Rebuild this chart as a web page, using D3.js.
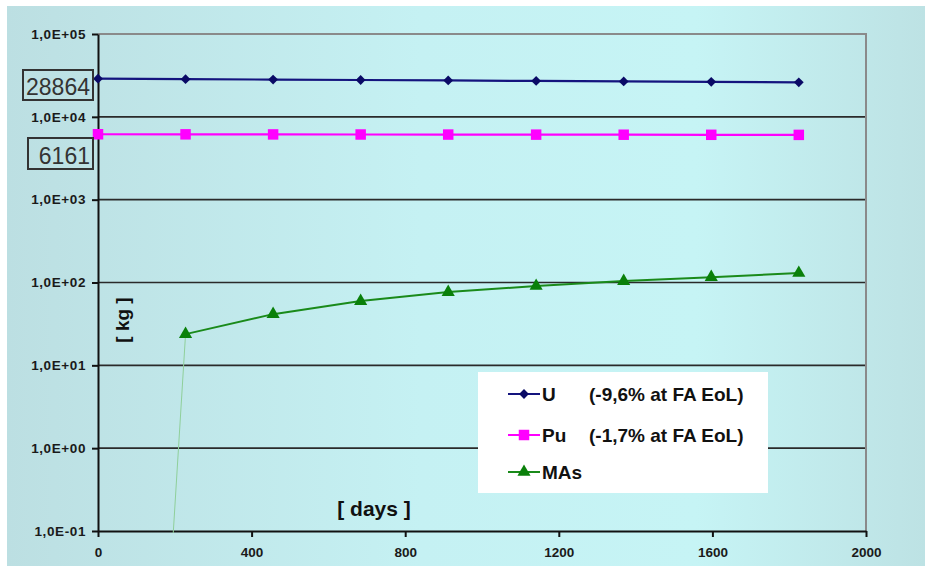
<!DOCTYPE html>
<html>
<head>
<meta charset="utf-8">
<script src="https://cdn.jsdelivr.net/npm/d3@7"></script>
<style>
  body { margin: 0; background: #fff; }
  svg { display: block; font-family: "Liberation Sans", Arial, sans-serif; }
</style>
</head>
<body>
<svg id="chart" width="925" height="566"></svg>
<script>
// days of the irradiation steps
const days = [0, 228, 456, 684, 912, 1141, 1369, 1597, 1825];
const uMass = [28864, 28518, 28172, 27825, 27479, 27132, 26786, 26440, 26093];
const puMass = [6161, 6148, 6135, 6122, 6109, 6095, 6082, 6069, 6056];
// MAs start near zero at day 0 (Excel draws it as a line dropping off the log axis)
const maMass = [2e-16, 23.8, 41.5, 59.6, 76.6, 90.6, 104, 116, 130];

const yTicks = [1e-1, 1e0, 1e1, 1e2, 1e3, 1e4, 1e5];
const xTicks = [0, 400, 800, 1200, 1600, 2000];

const seriesNames = ["U", "Pu", "MAs"];
const seriesNotes = ["(-9,6% at FA EoL)", "(-1,7% at FA EoL)", ""];

const width = 925,
  height = 566;
const plotLeft = 98,
  plotRight = 866,
  plotTop = 34,
  plotBottom = 531;

const svg = d3.select("#chart");

/* Background */
const defs = svg.append("defs");
const grad = defs
  .append("linearGradient")
  .attr("id", "bg")
  .attr("x1", "0")
  .attr("x2", "1")
  .attr("y1", "0")
  .attr("y2", "0");
grad.append("stop").attr("offset", "0%").attr("stop-color", "#bcdfe2");
grad.append("stop").attr("offset", "45%").attr("stop-color", "#c5f1f3");
grad.append("stop").attr("offset", "75%").attr("stop-color", "#c6f4f5");
grad.append("stop").attr("offset", "100%").attr("stop-color", "#bde2e4");

defs
  .append("clipPath")
  .attr("id", "plot")
  .append("rect")
  .attr("x", plotLeft)
  .attr("y", plotTop)
  .attr("width", plotRight - plotLeft)
  .attr("height", plotBottom - plotTop + 2);

svg
  .append("rect")
  .attr("x", 7)
  .attr("y", 6)
  .attr("width", width - 7)
  .attr("height", height - 6)
  .attr("fill", "url(#bg)");

/* Scales */
const xScale = d3.scaleLinear().domain([0, 2000]).range([plotLeft, plotRight]);
const yScale = d3.scaleLog().domain([1e-1, 1e5]).range([plotBottom, plotTop]);

const expFormat = (d) => {
  const e = Math.round(Math.log10(d));
  return "1,0E" + (e < 0 ? "-" : "+") + String(Math.abs(e)).padStart(2, "0");
};

/* Grid lines */
svg
  .append("g")
  .selectAll("line")
  .data(yTicks.filter((d) => d > 1e-1 && d < 1e5))
  .enter()
  .append("line")
  .attr("x1", plotLeft)
  .attr("x2", plotRight)
  .attr("y1", (d) => yScale(d))
  .attr("y2", (d) => yScale(d))
  .attr("stroke", "#2a2a2a")
  .attr("stroke-width", 1.6);

/* Plot frame (top and right) */
svg
  .append("path")
  .attr("d", `M${plotLeft},${plotTop}H${plotRight}V${plotBottom}`)
  .attr("fill", "none")
  .attr("stroke", "#8a8a8a")
  .attr("stroke-width", 2);

/* Axes */
const yAxis = d3.axisLeft(yScale).tickValues(yTicks).tickFormat(expFormat).tickSize(6).tickSizeOuter(0);
const gy = svg.append("g").attr("transform", `translate(${plotLeft},0)`).call(yAxis);
gy.select(".domain").attr("stroke", "#111").attr("stroke-width", 2);
gy.selectAll(".tick line").attr("stroke", "#111").attr("stroke-width", 2);
gy.selectAll(".tick text")
  .attr("x", -12)
  .attr("font-size", 13.5)
  .attr("font-weight", "bold")
  .attr("letter-spacing", 0.6)
  .attr("fill", "#1a1a1a");

const xAxis = d3.axisBottom(xScale).tickValues(xTicks).tickFormat(d3.format("d")).tickSize(6).tickSizeOuter(0);
const gx = svg.append("g").attr("transform", `translate(0,${plotBottom})`).call(xAxis);
gx.select(".domain").attr("stroke", "#111").attr("stroke-width", 2);
gx.selectAll(".tick line").attr("stroke", "#111").attr("stroke-width", 2);
gx.selectAll(".tick text")
  .attr("y", 16)
  .attr("font-size", 13.5)
  .attr("font-weight", "bold")
  .attr("fill", "#1a1a1a");

/* Axis titles */
svg
  .append("text")
  .attr("transform", "translate(129,320) rotate(-90)")
  .attr("text-anchor", "middle")
  .attr("font-size", 19)
  .attr("font-weight", "bold")
  .attr("fill", "#111")
  .text("[ kg ]");

svg
  .append("text")
  .attr("x", 374)
  .attr("y", 516)
  .attr("text-anchor", "middle")
  .attr("font-size", 21)
  .attr("font-weight", "bold")
  .attr("fill", "#111")
  .text("[ days ]");

/* Series */
const series = [
  { values: uMass, color: "#14147e", marker: d3.symbolSquare, size: 48, rotate: 45, fill: "#0a0a66" },
  { values: puMass, color: "#ff00ff", marker: d3.symbolSquare, size: 110 },
  { values: maMass, color: "#1a8a1a", marker: d3.symbolTriangle, size: 75, fill: "#0a800a" },
];

const plot = svg.append("g").attr("clip-path", "url(#plot)");
const line = d3
  .line()
  .x((d) => xScale(d[0]))
  .y((d) => yScale(d[1]));

series.forEach((s, k) => {
  const pts = days.map((d, i) => [d, s.values[i]]);
  if (k === 2) {
    // faint drop-off line towards the near-zero start value
    plot
      .append("path")
      .attr("d", line(pts.slice(0, 2)))
      .attr("fill", "none")
      .attr("stroke", "#8fcf9a")
      .attr("stroke-width", 1);
    plot
      .append("path")
      .attr("d", line(pts.slice(1)))
      .attr("fill", "none")
      .attr("stroke", s.color)
      .attr("stroke-width", 2);
  } else {
    plot
      .append("path")
      .attr("d", line(pts))
      .attr("fill", "none")
      .attr("stroke", s.color)
      .attr("stroke-width", 2.2);
  }
  svg
    .append("g")
    .selectAll("path")
    .data(k === 2 ? pts.slice(1) : pts)
    .enter()
    .append("path")
    .attr("d", d3.symbol().type(s.marker).size(s.size))
    .attr("transform", (d) => `translate(${xScale(d[0])},${yScale(d[1])}) rotate(${s.rotate || 0})`)
    .attr("fill", s.fill || s.color);
});

/* Start value boxes */
const boxes = [
  { value: uMass[0], x: 23, y: 70, w: 70, h: 30 },
  { value: puMass[0], x: 28, y: 138, w: 65, h: 31 },
];
boxes.forEach((b) => {
  svg
    .append("rect")
    .attr("x", b.x)
    .attr("y", b.y)
    .attr("width", b.w)
    .attr("height", b.h)
    .attr("fill", "none")
    .attr("stroke", "#333")
    .attr("stroke-width", 2);
  svg
    .append("text")
    .attr("x", b.x + b.w - 3)
    .attr("y", b.y + b.h - 5)
    .attr("text-anchor", "end")
    .attr("font-size", 23)
    .attr("fill", "#333")
    .text(b.value);
});

/* Legend */
const legend = svg.append("g");
legend
  .append("rect")
  .attr("x", 478)
  .attr("y", 372)
  .attr("width", 290)
  .attr("height", 121)
  .attr("fill", "#fff");

const rowY = [394, 435, 472];
series.forEach((s, k) => {
  const y = rowY[k];
  legend
    .append("line")
    .attr("x1", 508)
    .attr("x2", 540)
    .attr("y1", y)
    .attr("y2", y)
    .attr("stroke", s.color)
    .attr("stroke-width", 2);
  legend
    .append("path")
    .attr("d", d3.symbol().type(s.marker).size(s.size))
    .attr("transform", `translate(524,${y}) rotate(${s.rotate || 0})`)
    .attr("fill", s.fill || s.color);
  legend
    .append("text")
    .attr("x", 542)
    .attr("y", y + 7)
    .attr("font-size", 19)
    .attr("font-weight", "bold")
    .attr("fill", "#111")
    .text(seriesNames[k]);
  legend
    .append("text")
    .attr("x", 589)
    .attr("y", y + 7)
    .attr("font-size", 19)
    .attr("font-weight", "bold")
    .attr("fill", "#111")
    .text(seriesNotes[k]);
});
</script>
</body>
</html>
